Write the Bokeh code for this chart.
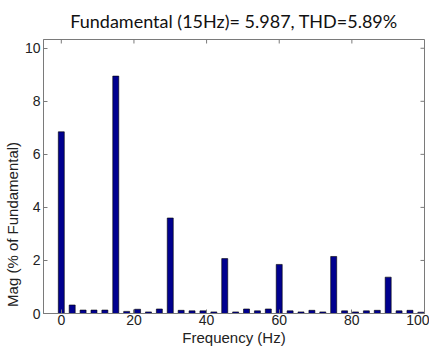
import math
from bokeh.plotting import figure
from bokeh.models import Range1d, FixedTicker, ColumnDataSource
from bokeh.embed import file_html
from bokeh.resources import INLINE

# Harmonic spectrum data
freq_hz = [0, 3, 6, 9, 12, 15, 18, 21, 24, 27, 30, 33, 36, 39, 42, 45, 48,
           51, 54, 57, 60, 63, 66, 69, 72, 75, 78, 81, 84, 87, 90, 93, 96, 99]
mag_pct = [6.85, 0.32, 0.13, 0.13, 0.13, 8.95, 0.08, 0.16, 0.06, 0.17,
           3.60, 0.12, 0.10, 0.10, 0.06, 2.07, 0.06, 0.17, 0.10, 0.17,
           1.85, 0.10, 0.06, 0.12, 0.06, 2.15, 0.10, 0.06, 0.10, 0.12,
           1.37, 0.10, 0.12, 0.05]
x_ticks = [0, 20, 40, 60, 80, 100]
y_ticks = [0, 2, 4, 6, 8, 10]
title_text = "Fundamental (15Hz)= 5.987, THD=5.89%"
x_label = "Frequency (Hz)"
y_label = "Mag (% of Fundamental)"

src = ColumnDataSource(data=dict(f=freq_hz, m=mag_pct))

x_rng = Range1d(-4.9, 100)
y_rng = Range1d(0, 10.33)

p = figure(width=429, height=348, output_backend="svg", toolbar_location=None,
           x_range=x_rng, y_range=y_rng, title=title_text,
           min_border_left=36, min_border_right=5, min_border_top=0,
           min_border_bottom=0)

p.vbar(x="f", top="m", bottom=0, width=1.65, source=src,
       fill_color="#00008f", line_color="#000000", line_width=0.6)

p.grid.visible = False
p.outline_line_color = "#7a7a7a"
p.outline_line_width = 1
p.background_fill_color = "white"
p.border_fill_color = "white"

p.title.text_font = "Lato"
p.title.text_font_size = "18px"
p.title.text_font_style = "normal"
p.title.text_color = "#111111"
p.title.align = "center"
p.title.offset = -9
p.title.standoff = 15

axis_col = "#7a7a7a"
for ax, ticks in ((p.xaxis[0], x_ticks), (p.yaxis[0], y_ticks)):
    ax.ticker = FixedTicker(ticks=ticks)
    ax.minor_tick_line_color = None
    ax.major_tick_in = 4
    ax.major_tick_out = 0
    ax.major_tick_line_color = axis_col
    ax.axis_line_color = axis_col
    ax.major_label_text_font = "Liberation Sans"
    ax.major_label_text_font_size = "14px"
    ax.major_label_text_color = "#222222"
    ax.axis_label_text_font = "Liberation Sans"
    ax.axis_label_text_font_size = "15px"
    ax.axis_label_text_font_style = "normal"
    ax.axis_label_text_color = "#222222"

p.xaxis[0].major_label_standoff = 1
p.xaxis[0].axis_label_standoff = 1
p.yaxis[0].major_label_standoff = 3
p.yaxis[0].axis_label_standoff = 1

p.xaxis[0].axis_label = x_label
# trailing no-break spaces shift the visible y title lower, as in the reference
p.yaxis[0].axis_label = y_label + "\u00a0" * 23

# Mirror tick marks on the top and right edges of the box
p.ray(x=x_ticks, y=[y_rng.end] * len(x_ticks), length=4, length_units="screen",
      angle=-math.pi / 2, line_color=axis_col, line_width=1)
p.ray(x=[x_rng.end] * len(y_ticks), y=y_ticks, length=4, length_units="screen",
      angle=math.pi, line_color=axis_col, line_width=1)

open("out.html", "w").write(file_html(p, INLINE))
